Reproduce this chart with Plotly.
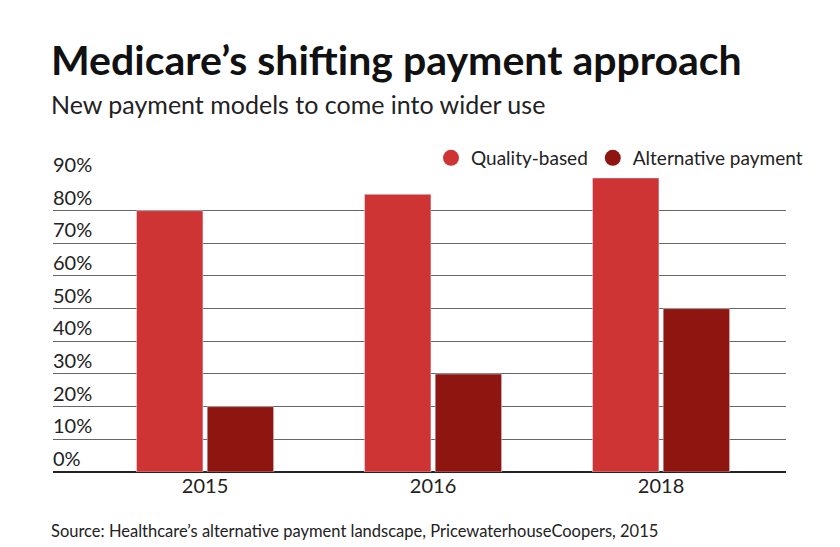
import plotly.graph_objects as go

years = ["2015", "2016", "2018"]
quality = [80, 85, 90]
alternative = [20, 30, 50]
tick_vals = [0, 10, 20, 30, 40, 50, 60, 70, 80, 90]

red = "#cf3434"
dark = "#8e1510"
font = "Lato"

fig = go.Figure()
fig.add_trace(go.Bar(x=years, y=quality, marker_color=red, showlegend=False))
fig.add_trace(go.Bar(x=years, y=alternative, marker_color=dark, showlegend=False))
# circle markers for the legend
fig.add_trace(go.Scatter(x=[None], y=[None], mode="markers", name="Quality-based",
                         marker=dict(color=red, size=17, symbol="circle")))
fig.add_trace(go.Scatter(x=[None], y=[None], mode="markers", name="Alternative payment",
                         marker=dict(color=dark, size=17, symbol="circle")))

for v in tick_vals:
    fig.add_annotation(x=0, xref="paper", y=v, yref="y", text=f"{v}%", showarrow=False,
                       xanchor="left", yanchor="bottom", yshift=0, xshift=-2,
                       font=dict(size=20, color="#222", family=font))

fig.add_annotation(x=0, xref="paper", y=1, yref="paper", yshift=118, text="<b>Medicare’s shifting payment approach</b>",
                   showarrow=False, xanchor="left", yanchor="middle", xshift=-4,
                   font=dict(size=41, color="#111", family=font))
fig.add_annotation(x=0, xref="paper", y=1, yref="paper", yshift=73, text="New payment models to come into wider use",
                   showarrow=False, xanchor="left", yanchor="middle", xshift=-4,
                   font=dict(size=25, color="#222", family=font))
fig.add_annotation(x=0, xref="paper", y=0, yref="paper", yshift=-59,
                   text="Source: Healthcare’s alternative payment landscape, PricewaterhouseCoopers, 2015",
                   showarrow=False, xanchor="left", yanchor="middle", xshift=-4,
                   font=dict(size=16.5, color="#222", family=font))

fig.update_layout(
    width=840, height=547,
    margin=dict(l=45, r=62, t=169, b=83, autoexpand=False),
    paper_bgcolor="white", plot_bgcolor="white",
    barmode="group", bargap=0.38, bargroupgap=0.06,
    font=dict(family=font, color="#222"),
    legend=dict(orientation="h", x=1.03, xanchor="right", y=1.0, yanchor="bottom",
                font=dict(size=19, family=font), bgcolor="rgba(0,0,0,0)"),
    xaxis=dict(type="category", range=[-0.667, 2.548], showgrid=False, ticks="",
               tickfont=dict(size=20, family=font, color="#222")),
    yaxis=dict(range=[0, 90.3], tickvals=tick_vals, showticklabels=False, showgrid=True,
               gridcolor="#666", gridwidth=1, zeroline=True, zerolinecolor="#222", zerolinewidth=1.5),
)

fig.write_html("out.html")
